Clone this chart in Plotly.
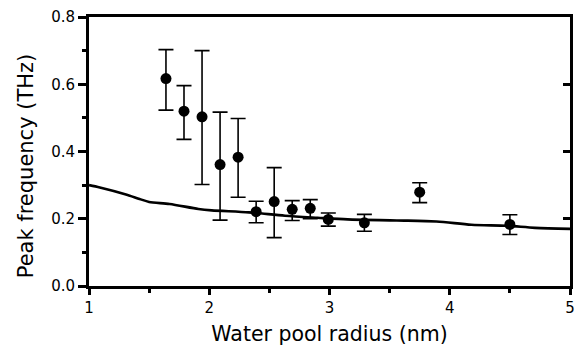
import plotly.graph_objects as go

radius = [1.64, 1.79, 1.94, 2.09, 2.24, 2.39, 2.54, 2.69, 2.84, 2.99, 3.29, 3.75, 4.50]
peak = [0.617, 0.520, 0.503, 0.361, 0.383, 0.221, 0.251, 0.228, 0.231, 0.198, 0.188, 0.279, 0.183]
upper = [0.703, 0.596, 0.700, 0.517, 0.498, 0.252, 0.352, 0.254, 0.257, 0.217, 0.213, 0.307, 0.212]
lower = [0.523, 0.436, 0.302, 0.196, 0.264, 0.188, 0.144, 0.195, 0.200, 0.178, 0.163, 0.248, 0.153]

curve_x = [1.0, 1.09, 1.30, 1.42, 1.50, 1.67, 1.91, 2.02, 2.33, 2.63, 2.90, 3.15, 3.56, 3.89, 4.18, 4.47, 4.71, 5.0]
curve_y = [0.300, 0.293, 0.273, 0.259, 0.250, 0.244, 0.229, 0.225, 0.219, 0.209, 0.203, 0.198, 0.195, 0.192, 0.182, 0.179, 0.173, 0.170]

err_plus = [u - p for u, p in zip(upper, peak)]
err_minus = [p - l for p, l in zip(peak, lower)]

font = "DejaVu Sans, Liberation Sans, Arial, sans-serif"

fig = go.Figure()
fig.add_trace(go.Scatter(
    x=curve_x, y=curve_y, mode="lines",
    line=dict(color="black", width=2.6, shape="spline", smoothing=0.8),
    showlegend=False, cliponaxis=False,
))
fig.add_trace(go.Scatter(
    x=radius, y=peak, mode="markers",
    marker=dict(color="black", size=11),
    error_y=dict(type="data", symmetric=False, array=err_plus, arrayminus=err_minus,
                 color="black", thickness=1.6, width=7.5),
    showlegend=False,
))
# invisible trace on the right axis so it renders
fig.add_trace(go.Scatter(x=[1], y=[0], yaxis="y2", mode="markers",
                         marker=dict(opacity=0), showlegend=False, hoverinfo="skip"))

fig.update_layout(
    width=582, height=352,
    margin=dict(l=89, r=7, t=17, b=66),
    paper_bgcolor="white", plot_bgcolor="white",
    font=dict(family=font, color="black", size=15),
    xaxis=dict(
        range=[1, 5], tickvals=[1, 2, 3, 4, 5], ticks="outside", ticklen=6, tickwidth=2.5,
        tickcolor="black", showline=True, linecolor="black", linewidth=3, mirror=True,
        showgrid=False, zeroline=False,
        minor=dict(tickvals=[1.5, 2.5, 3.5, 4.5], ticks="outside", ticklen=4, tickwidth=2.5, tickcolor="black"),
        title=dict(text="Water pool radius (nm)", font=dict(size=20.5), standoff=11),
        tickfont=dict(size=15),
    ),
    yaxis=dict(
        range=[0, 0.8], tickvals=[0, 0.2, 0.4, 0.6, 0.8], ticktext=["0.0", "0.2", "0.4", "0.6", "0.8"],
        ticks="outside", ticklen=8, tickwidth=2.5, tickcolor="black",
        showline=True, linecolor="black", linewidth=3, mirror=False,
        showgrid=False, zeroline=False,
        minor=dict(tickvals=[0.1, 0.3, 0.5, 0.7], ticks="outside", ticklen=4, tickwidth=2.5, tickcolor="black"),
        tickfont=dict(size=15),
    ),
    yaxis2=dict(
        range=[0, 0.8], overlaying="y", side="right", tickvals=[0.2, 0.4, 0.6],
        ticks="inside", ticklen=7, tickwidth=2.5, tickcolor="black", showticklabels=False,
        showline=True, linecolor="black", linewidth=3, showgrid=False, zeroline=False,
    ),
    annotations=[dict(
        text="Peak frequency (THz)", textangle=-90, showarrow=False,
        xref="paper", yref="paper", x=(25 - 89) / 486, y=(286.7 - 166) / 269.7,
        xanchor="center", yanchor="middle", font=dict(size=21),
    )],
)

fig.write_html("out.html")
